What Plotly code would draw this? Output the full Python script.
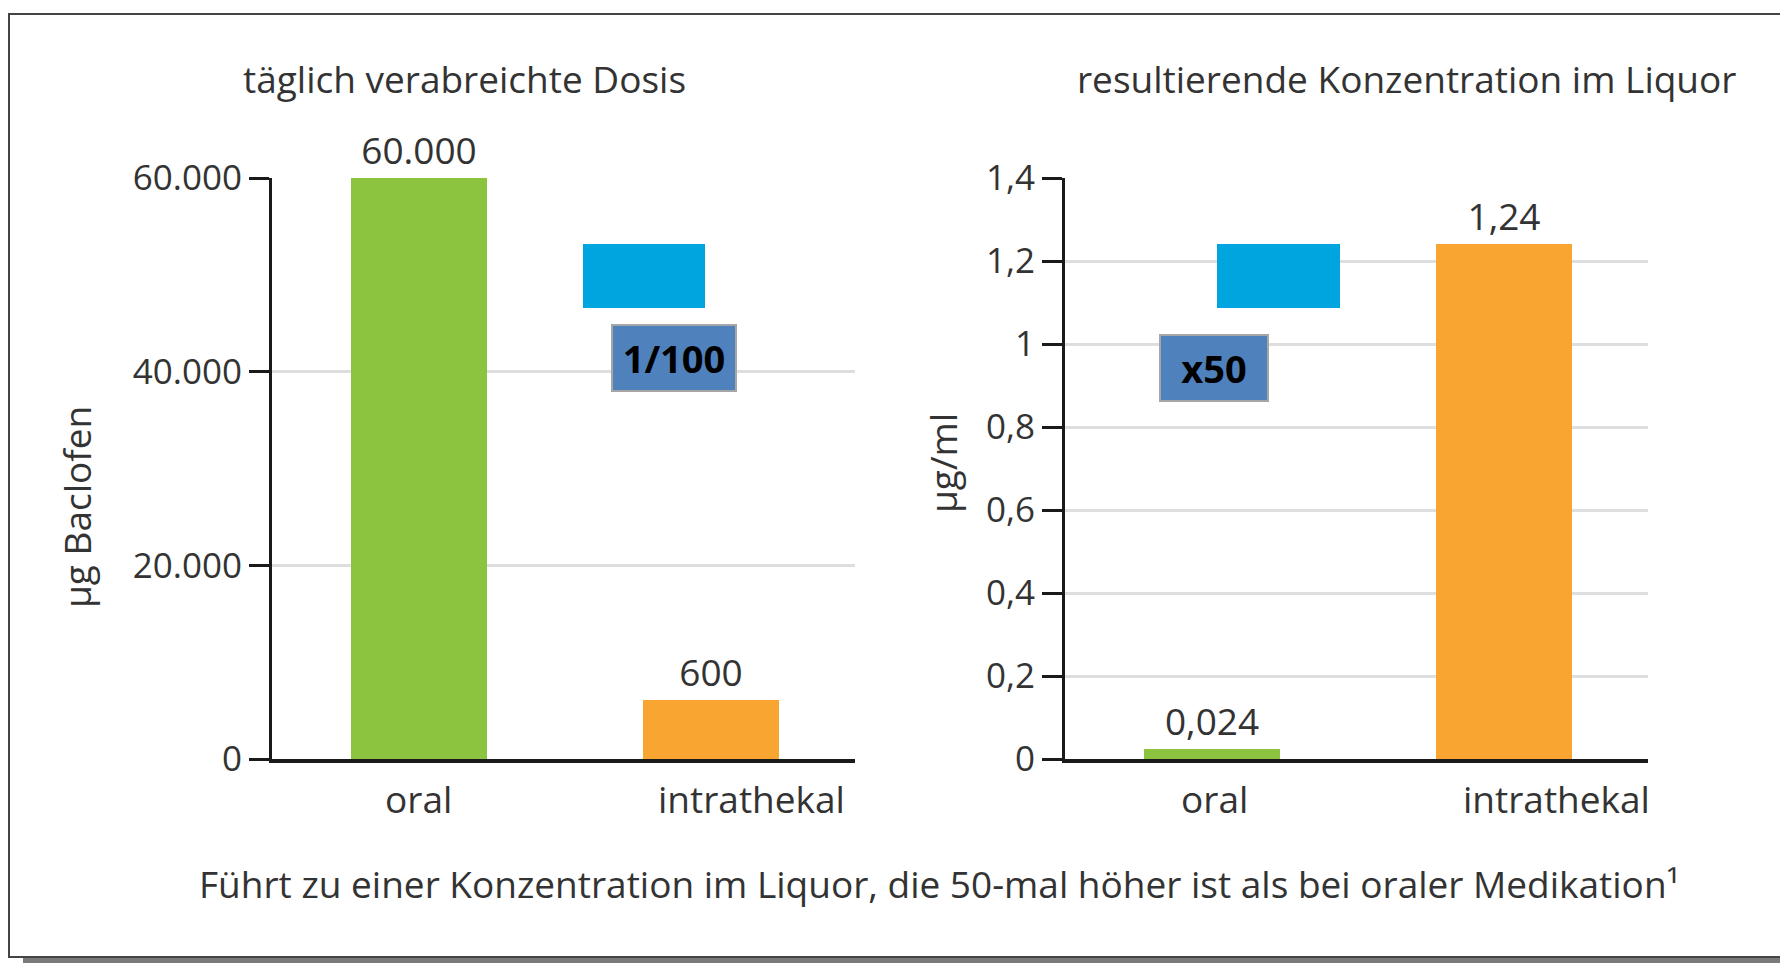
import plotly.graph_objects as go

# ---------------- data ----------------
categories = ["oral", "intrathekal"]
dose_bar_heights = [60000, 6100]          # drawn heights as they appear in the picture
dose_labels = ["60.000", "600"]
conc_values = [0.024, 1.24]
conc_labels = ["0,024", "1,24"]
dose_tickvals = [0, 20000, 40000, 60000]
dose_ticktext = ["0", "20.000", "40.000", "60.000"]
conc_tickvals = [0, 0.2, 0.4, 0.6, 0.8, 1.0, 1.2, 1.4]
conc_ticktext = ["0", "0,2", "0,4", "0,6", "0,8", "1", "1,2", "1,4"]
bar_colors = ["#8DC43F", "#F8A532"]

title_left = "täglich verabreichte Dosis"
title_right = "resultierende Konzentration im Liquor"
ytitle_left = "µg Baclofen"
ytitle_right = "µg/ml"
factor_left = "1/100"
factor_right = "x50"
footer = "Führt zu einer Konzentration im Liquor, die 50-mal höher ist als bei oraler Medikation¹"

# ---------------- layout helpers ----------------
W, H = 1780, 963
def px(x):
    return x / W
def py(y):
    return 1 - y / H

FONT = "Open Sans"
TXT = "#333333"
FS = 37
TFS = 35
AX = "#1a1a1a"
GRID = "#dedede"

fig = go.Figure()

fig.add_trace(go.Bar(
    x=list(range(len(categories))), y=dose_bar_heights, width=0.466,
    marker=dict(color=bar_colors, line=dict(width=0)),
    text=dose_labels, textposition="outside", constraintext="none",
    textfont=dict(family=FONT, size=FS, color=TXT), cliponaxis=False,
    hoverinfo="skip", xaxis="x", yaxis="y", showlegend=False))

fig.add_trace(go.Bar(
    x=list(range(len(categories))), y=conc_values, width=0.466,
    marker=dict(color=bar_colors, line=dict(width=0)),
    text=conc_labels, textposition="outside", constraintext="none",
    textfont=dict(family=FONT, size=FS, color=TXT), cliponaxis=False,
    hoverinfo="skip", xaxis="x2", yaxis="y2", showlegend=False))

xcommon = dict(showgrid=False, zeroline=False, showline=True, linecolor=AX,
               linewidth=4, showticklabels=False, ticks="", range=[-0.503, 1.493],
               automargin=False, fixedrange=True)
ycommon = dict(showgrid=True, gridcolor=GRID, gridwidth=3, zeroline=False,
               showline=True, linecolor=AX, linewidth=3, ticks="outside",
               ticklen=20, tickwidth=3, tickcolor=AX,
               tickfont=dict(family=FONT, size=TFS, color=TXT),
               domain=[py(759), py(178)], automargin=False, fixedrange=True)

fig.update_layout(
    width=W, height=H, margin=dict(l=0, r=0, t=0, b=0, pad=0, autoexpand=False),
    paper_bgcolor="white", plot_bgcolor="white", showlegend=False,
    bargap=0,
    xaxis=dict(domain=[px(272), px(855)], anchor="y", **xcommon),
    yaxis=dict(anchor="x", range=[0, 60000], tickvals=dose_tickvals,
               ticktext=dose_ticktext, **ycommon),
    xaxis2=dict(domain=[px(1065), px(1648)], anchor="y2", **xcommon),
    yaxis2=dict(anchor="x2", range=[0, 1.4], tickvals=conc_tickvals,
                ticktext=conc_ticktext, **ycommon),
)

ann = []
def text_ann(x, y, t, size=FS, xref="paper", angle=0, xanchor="center", **kw):
    ann.append(dict(x=x, y=y, xref=xref, yref="paper", text=t, showarrow=False,
                    xanchor=xanchor, yanchor="middle", textangle=angle,
                    font=dict(family=FONT, size=size, color=TXT), **kw))

text_ann(px(464), py(79), title_left)
text_ann(px(1406), py(79), title_right)
text_ann(px(77), py(507), ytitle_left, angle=-90)
text_ann(px(942), py(463), ytitle_right, angle=-90)

# category labels
label_offsets_left = [0.0, 0.14]
label_offsets_right = [0.01, 0.18]
for i, c in enumerate(categories):
    text_ann(i + label_offsets_left[i], py(798), c, xref="x")
    text_ann(i + label_offsets_right[i], py(798), c, xref="x2")

text_ann(px(939), py(883), footer)

# factor boxes
for t, cx, cy, w, h in [(factor_left, 674, 358, 122, 64), (factor_right, 1214, 368, 106, 64)]:
    ann.append(dict(x=px(cx), y=py(cy), xref="paper", yref="paper", text="<b>%s</b>" % t,
                    showarrow=False, xanchor="center", yanchor="middle",
                    width=w, height=h, bgcolor="#4F81BD", bordercolor="#A6A6A6",
                    borderwidth=2, borderpad=0,
                    font=dict(family=FONT, size=38, color="#000000")))
fig.update_layout(annotations=ann)

shapes = [
    # outer frame
    dict(type="rect", xref="paper", yref="paper", x0=px(9), x1=1.02, y0=py(957), y1=py(14),
         line=dict(color="#444444", width=2), fillcolor="rgba(0,0,0,0)", layer="below"),
    # bottom shadow
    dict(type="rect", xref="paper", yref="paper", x0=px(23), x1=1.0, y0=py(963), y1=py(958),
         line=dict(width=0), fillcolor="#7a7a7a"),
    # cyan rectangles
    dict(type="rect", xref="paper", yref="paper", x0=px(583), x1=px(705), y0=py(308), y1=py(244),
         line=dict(width=0), fillcolor="#00A5E0"),
    dict(type="rect", xref="paper", yref="paper", x0=px(1217), x1=px(1340), y0=py(308), y1=py(244),
         line=dict(width=0), fillcolor="#00A5E0"),
]
fig.update_layout(shapes=shapes)

fig.write_html("out.html", config={"displayModeBar": False},
               post_script="document.body.style.margin='0px';document.body.style.overflow='hidden';")
